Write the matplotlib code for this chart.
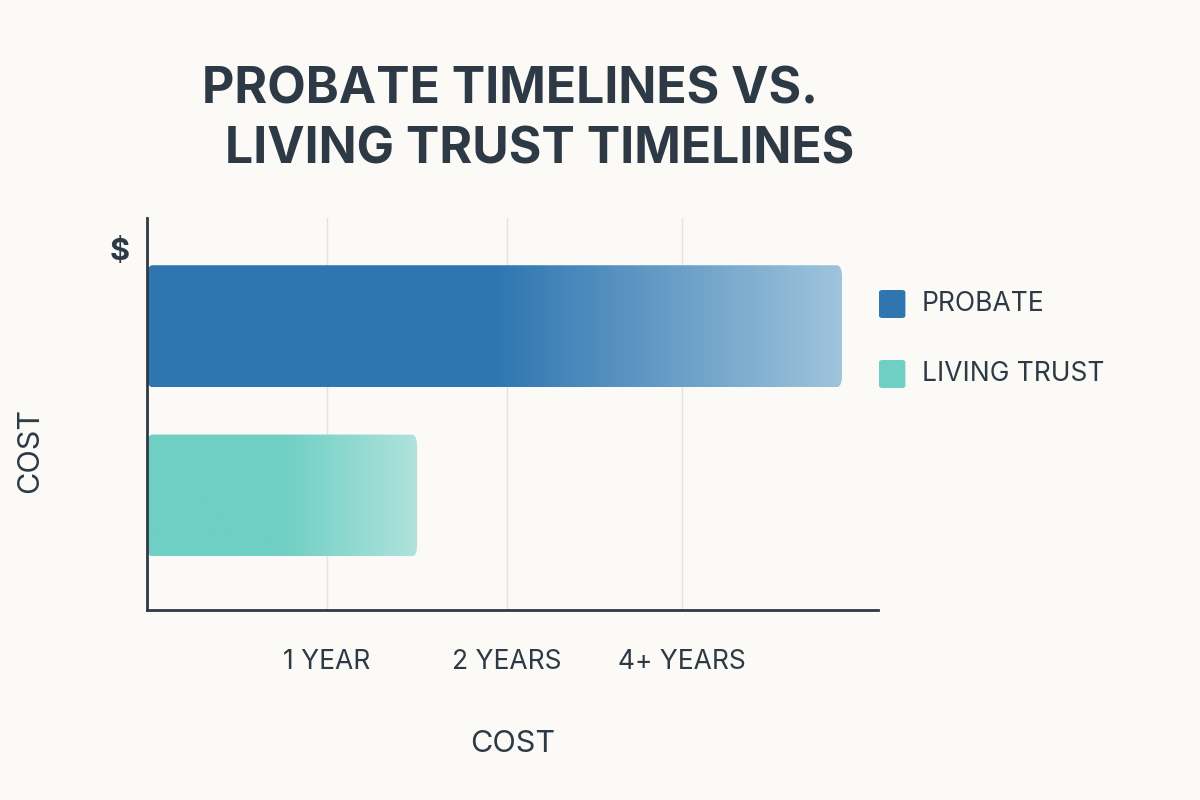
import numpy as np
import matplotlib.pyplot as plt
from matplotlib.patches import FancyBboxPatch, Rectangle
from matplotlib.colors import LinearSegmentedColormap

plt.rcParams['font.family'] = ['Inter', 'DejaVu Sans']

plans = ["PROBATE", "LIVING TRUST"]
durations = [3.86, 1.5]          # in tick units (1 year, 2 years, 4+ years)
tick_pos = [1, 2, 2.97]
tick_labels = ["1 YEAR", "2 YEARS", "4+ YEARS"]
bar_y = [0.724, 0.292]
colors_left = ["#2f76b1", "#6fcfc4"]
colors_right = ["#9fc4dc", "#afe3dc"]

bg = "#fbfaf7"
ink = "#2d3a45"

fig = plt.figure(figsize=(12, 8), dpi=100, facecolor=bg)
ax = fig.add_axes([0.1225, 0.2375, 0.6092, 0.49])
ax.set_facecolor(bg)
ax.set_xlim(0, 4.06)
ax.set_ylim(0, 1)

for x in tick_pos:
    ax.axvline(x, color="#e2e2e0", lw=1, zorder=0)

h = 0.311
for w, y, c1, c2 in zip(durations, bar_y, colors_left, colors_right):
    cmap = LinearSegmentedColormap.from_list("g", [c1, c1, c2])
    grad = np.linspace(0, 1, 256).reshape(1, -1)
    im = ax.imshow(grad, cmap=cmap, extent=[0, w, y - h / 2, y + h / 2],
                   aspect="auto", zorder=2)
    clip = FancyBboxPatch((0, y - h / 2), w, h,
                          boxstyle="round,pad=0,rounding_size=0.03",
                          transform=ax.transData, facecolor="none", edgecolor="none")
    ax.add_patch(clip)
    im.set_clip_path(clip)

for s in ["top", "right"]:
    ax.spines[s].set_visible(False)
for s in ["left", "bottom"]:
    ax.spines[s].set_color(ink)
    ax.spines[s].set_linewidth(2)
ax.set_xticks(tick_pos)
ax.set_xticklabels(tick_labels, fontsize=19, color=ink)
ax.tick_params(axis="x", length=0, pad=28)
ax.set_yticks([])
ax.set_xlabel("COST", fontsize=22, color=ink, labelpad=40)

fig.text(0.1, 0.685, "$", fontsize=22, color=ink, fontweight="bold", ha="center", va="center")
fig.text(0.025, 0.437, "COST", fontsize=22, color=ink, rotation=90, ha="center", va="center")

fig.text(0.425, 0.888, "PROBATE TIMELINES VS.", fontsize=36, fontweight="bold",
         color=ink, ha="center", va="center")
fig.text(0.45, 0.812, "LIVING TRUST TIMELINES", fontsize=36, fontweight="bold",
         color=ink, ha="center", va="center")

for i, (name, c) in enumerate(zip(plans, colors_left)):
    yc = 0.62 - i * 0.0875
    fig.patches.append(FancyBboxPatch((0.7325, yc - 0.0175), 0.022, 0.035,
                                      boxstyle="round,pad=0,rounding_size=0.003",
                                      transform=fig.transFigure, facecolor=c,
                                      edgecolor="none"))
    fig.text(0.768, yc, name, fontsize=19, color=ink, va="center")

fig.savefig("out.png", dpi=100, facecolor=bg)
